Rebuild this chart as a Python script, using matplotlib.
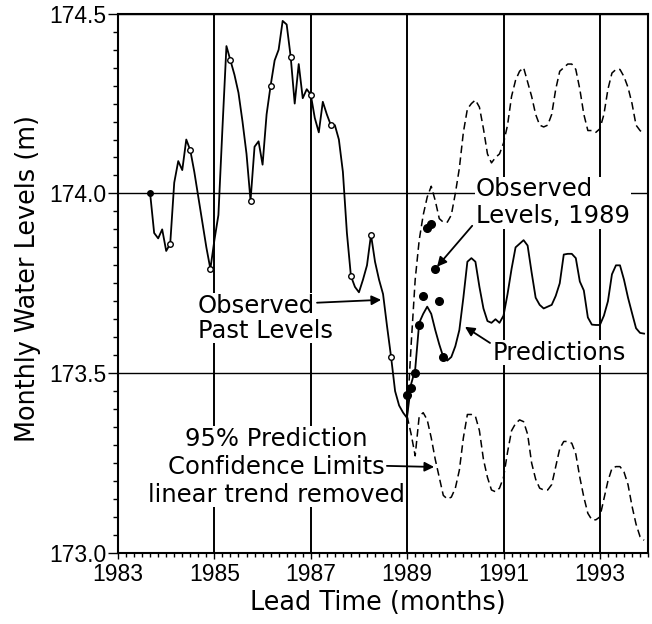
import numpy as np
import matplotlib
matplotlib.use('Agg')
import matplotlib.pyplot as plt
from matplotlib.ticker import MultipleLocator

# observed monthly levels, Sep 1983 .. Jan 1989
obs_start = 1983 + 8 / 12
obs_levels = [174.00, 173.89, 173.875, 173.90,
              173.84, 173.86, 174.03, 174.09, 174.065, 174.15, 174.12, 174.06, 173.99, 173.92, 173.85, 173.79,
              173.87, 173.94, 174.18, 174.41, 174.37, 174.33, 174.28, 174.20, 174.11, 173.98, 174.13, 174.145,
              174.08, 174.22, 174.30, 174.37, 174.40, 174.48, 174.47, 174.38, 174.25, 174.36, 174.265, 174.29,
              174.275, 174.21, 174.17, 174.255, 174.22, 174.19, 174.19, 174.15, 174.06, 173.89, 173.77, 173.74,
              173.725, 173.76, 173.80, 173.885, 173.81, 173.76, 173.72, 173.63, 173.545, 173.45, 173.41, 173.39,
              173.375]

# predictions and 95% limits, monthly from Jan 1989
pred_start = 1989.0
pred_levels = [173.38, 173.47, 173.51, 173.64, 173.665, 173.685, 173.665, 173.62, 173.58, 173.545, 173.535, 173.545,
               173.575, 173.62, 173.71, 173.81, 173.82, 173.81, 173.74, 173.68, 173.645, 173.64, 173.65, 173.64,
               173.66, 173.72, 173.79, 173.85, 173.86, 173.87, 173.855, 173.78, 173.71, 173.69, 173.68, 173.685,
               173.69, 173.715, 173.75, 173.83, 173.832, 173.832, 173.82, 173.755, 173.73, 173.655, 173.635, 173.634,
               173.634, 173.66, 173.70, 173.775, 173.80, 173.80, 173.76, 173.71, 173.667, 173.625, 173.612, 173.61]
upper_limit = [173.38, 173.58, 173.76, 173.87, 173.94, 173.99, 174.02, 173.98, 173.93, 173.92, 173.92, 173.94,
               174.00, 174.07, 174.17, 174.235, 174.25, 174.26, 174.24, 174.18, 174.11, 174.085, 174.10, 174.11,
               174.14, 174.19, 174.27, 174.315, 174.34, 174.35, 174.31, 174.27, 174.22, 174.19, 174.185, 174.19,
               174.22, 174.29, 174.34, 174.35, 174.36, 174.36, 174.345, 174.29, 174.22, 174.175, 174.175, 174.17,
               174.18, 174.22, 174.29, 174.335, 174.345, 174.345, 174.325, 174.295, 174.25, 174.19, 174.175, 174.165]
lower_limit = [173.38, 173.33, 173.27, 173.38, 173.39, 173.37, 173.32, 173.26, 173.21, 173.16, 173.15, 173.155,
               173.18, 173.23, 173.32, 173.385, 173.385, 173.38, 173.34, 173.26, 173.21, 173.175, 173.17, 173.18,
               173.21, 173.28, 173.34, 173.36, 173.37, 173.365, 173.33, 173.25, 173.205, 173.18, 173.175, 173.175,
               173.19, 173.24, 173.29, 173.31, 173.31, 173.305, 173.275, 173.21, 173.155, 173.11, 173.092, 173.092,
               173.10, 173.15, 173.20, 173.235, 173.24, 173.24, 173.225, 173.19, 173.13, 173.08, 173.045, 173.035]

# observed 1989 levels, Jan .. Oct
obs89_levels = [173.44, 173.46, 173.50, 173.635, 173.715, 173.905, 173.915, 173.79, 173.70, 173.545]

year_ticks = [1983, 1985, 1987, 1989, 1991, 1993]
level_ticks = [173.0, 173.5, 174.0, 174.5]

obs_x = obs_start + np.arange(len(obs_levels)) / 12
pred_x = pred_start + np.arange(len(pred_levels)) / 12
obs89_x = pred_start + np.arange(len(obs89_levels)) / 12

fig = plt.figure(figsize=(6.52, 6.24), dpi=100)
ax = fig.add_axes([0.181, 0.114, 0.813, 0.864])

# lines
ax.plot(obs_x, obs_levels, color='k', lw=1.3, zorder=4)
ax.plot(obs_x, obs_levels, ls='none', marker='o', ms=4, mfc='white', mec='k', mew=1.0,
        markevery=slice(5, 61, 5), zorder=5)
ax.plot(obs_x[0], obs_levels[0], marker='o', ms=4, color='k', zorder=5)
ax.plot(pred_x, pred_levels, color='k', lw=1.3, zorder=4)
ax.plot(pred_x, upper_limit, color='k', lw=1.1, dashes=(5, 2.8), zorder=4)
ax.plot(pred_x, lower_limit, color='k', lw=1.1, dashes=(5, 2.8), zorder=4)
ax.plot(obs89_x, obs89_levels, ls='none', marker='o', ms=5.5, color='k', zorder=5)

ax.set_xlim(1983, 1994)
ax.set_ylim(173.0, 174.5)
ax.set_xticks(year_ticks)
ax.set_yticks(level_ticks)
ax.set_yticklabels(['%.1f' % v for v in level_ticks])
ax.xaxis.set_minor_locator(MultipleLocator(1 / 6))
ax.yaxis.set_minor_locator(MultipleLocator(0.05))

# grid: heavy verticals, lighter horizontals
ax.set_axisbelow(True)
ax.xaxis.grid(True, color='k', lw=1.4)
ax.yaxis.grid(True, color='k', lw=1.0)

for sp in ax.spines.values():
    sp.set_linewidth(1.5)

ax.tick_params(axis='both', which='both', direction='out', width=1.0, labelsize=16.5,
               labelfontfamily='Liberation Sans')
ax.tick_params(axis='x', which='major', length=4.5, pad=3)
ax.tick_params(axis='x', which='minor', length=3.2)
ax.tick_params(axis='y', which='major', length=7.2, pad=1)
ax.tick_params(axis='y', which='minor', length=3.6)

ax.set_xlabel('Lead Time (months)', fontsize=18.4, va='center')
ax.xaxis.set_label_coords(0.49, -0.093)
ax.set_ylabel('Monthly Water Levels (m)', fontsize=18.4, va='center')
ax.yaxis.set_label_coords(-0.17, 0.508)

# annotations
box = dict(facecolor='white', edgecolor='none', pad=0.5)
arrow = dict(arrowstyle='-|>', color='k', lw=1.3, mutation_scale=14, shrinkA=0, shrinkB=0)

ax.text(1984.66, 173.653, 'Observed\nPast Levels', fontsize=17.5, ha='left', va='center',
        linespacing=1.05, bbox=box, zorder=3)
ax.annotate('', xy=(1988.46, 173.704), xytext=(1987.13, 173.696), arrowprops=arrow, zorder=6)

ax.text(1990.43, 173.974, 'Observed\nLevels, 1989', fontsize=17.5, ha='left', va='center',
        linespacing=1.15, bbox=box, zorder=3)
ax.annotate('', xy=(1989.62, 173.796), xytext=(1990.35, 173.91), arrowprops=arrow, zorder=6)

ax.text(1990.78, 173.557, 'Predictions', fontsize=17.5, ha='left', va='center', bbox=box, zorder=3)
ax.annotate('', xy=(1990.20, 173.629), xytext=(1990.72, 173.584), arrowprops=arrow, zorder=6)

ax.text(1986.28, 173.239, '95% Prediction\nConfidence Limits\nlinear trend removed', fontsize=17.5,
        ha='center', va='center', linespacing=1.2, bbox=box, zorder=3)
ax.annotate('', xy=(1989.56, 173.239), xytext=(1988.58, 173.242), arrowprops=arrow, zorder=6)

plt.savefig('out.png', dpi=100, facecolor='white')
plt.close(fig)
